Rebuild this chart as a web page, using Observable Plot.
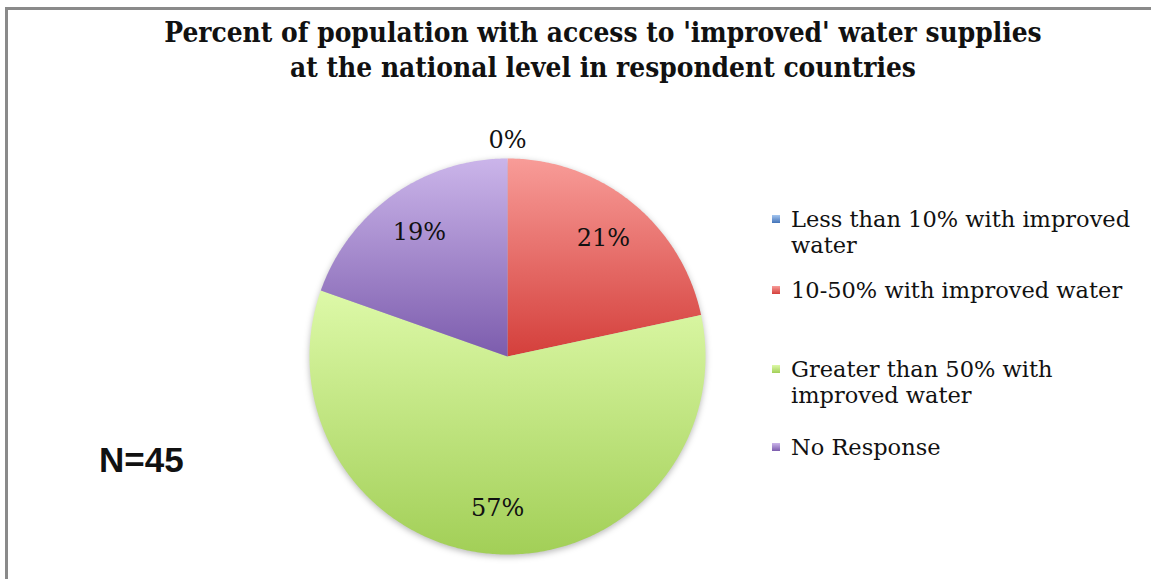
<!DOCTYPE html>
<html>
<head>
<meta charset="utf-8">
<script src="https://cdn.jsdelivr.net/npm/d3@7"></script>
<script src="https://cdn.jsdelivr.net/npm/@observablehq/plot@0.6"></script>
<style>
  html, body { margin: 0; padding: 0; background: #fff; }
  #wrap { position: relative; width: 1151px; height: 579px; overflow: hidden; background: #fff; }
  #frame { position: absolute; left: 5px; top: 7px; width: 1200px; height: 700px; border-top: 3px solid #8a8a8a; border-left: 3px solid #8a8a8a; box-sizing: border-box; }
  #title { position: absolute; left: 0; width: 1206px; top: 15px; text-align: center; font-family: "DejaVu Serif Condensed", "DejaVu Serif", serif; font-stretch: condensed; font-weight: bold; font-size: 27.8px; line-height: 35px; color: #111; }
  #legend { position: absolute; left: 772px; top: 0; width: 380px; font-family: "DejaVu Serif", serif; font-size: 22.5px; line-height: 26px; color: #111; }
  .item { position: absolute; left: 0; width: 379px; }
  .sw { position: absolute; left: 0; top: 9px; width: 8px; height: 8px; }
  .txt { position: absolute; left: 19px; width: 360px; white-space: nowrap; }
  #nlabel { position: absolute; left: 99px; top: 440px; font-family: "Liberation Sans", sans-serif; font-weight: bold; font-size: 35px; color: #111; }
  #chart { position: absolute; left: 0; top: 0; }
</style>
</head>
<body>
<div id="wrap">
  <div id="chart"></div>
  <div id="frame"></div>
  <div id="title"></div>
  <div id="legend"></div>
  <div id="nlabel"></div>
</div>
<script>
const titleLines = ["Percent of population with access to 'improved' water supplies", "at the national level in respondent countries"];
const categories = ["Less than 10% with improved water", "10-50% with improved water", "Greater than 50% with improved water", "No Response"];
const legendLines = [["Less than 10% with improved", "water"], ["10-50% with improved water"], ["Greater than 50% with", "improved water"], ["No Response"]];
const values = [0, 21, 57, 19];
const valueLabels = ["0%", "21%", "57%", "19%"];
const gradTop = ["#a4c6f0", "#f89c98", "#ddf9a8", "#cbb5ea"];
const gradBottom = ["#4373b8", "#d43f3b", "#a2cf57", "#7c5cad"];
const sampleNote = "N=45";

// layout
const W = 1151, H = 579, cx = 507, cy = 356, R = 198;

// pie geometry from the data
const arcs = d3.pie().sort(null).value(d => d)(values);
const slicePts = [];
arcs.forEach((a, i) => {
  slicePts.push({cat: categories[i], x: 0, y: 0});
  const n = Math.max(2, Math.ceil((a.endAngle - a.startAngle) / 0.01));
  for (let k = 0; k <= n; k++) {
    const t = a.startAngle + (a.endAngle - a.startAngle) * k / n;
    slicePts.push({cat: categories[i], x: Math.sin(t), y: Math.cos(t)});
  }
});
const labelPts = arcs.map((a, i) => {
  const mid = (a.startAngle + a.endAngle) / 2;
  const rr = values[i] === 0 ? 1.09 : 0.77;
  return {label: valueLabels[i], x: rr * Math.sin(mid), y: rr * Math.cos(mid)};
});

const gradIds = categories.map((c, i) => "slicegrad" + i);

const plot = Plot.plot({
  width: W, height: H,
  margin: 0,
  x: {domain: [-1, 1], range: [cx - R, cx + R], axis: null},
  y: {domain: [-1, 1], range: [cy + R, cy - R], axis: null},
  color: {type: "ordinal", domain: categories, range: gradIds.map(id => `url(#${id})`)},
  style: {background: "transparent"},
  marks: [
    Plot.line(slicePts, {x: "x", y: "y", z: "cat", fill: "cat", stroke: "none", curve: "linear-closed"}),
    Plot.text(labelPts, {x: "x", y: "y", text: "label", fontSize: 24, fontFamily: "DejaVu Serif, serif", fill: "#111"})
  ]
});

// gradients
const defs = d3.select(plot).insert("defs", ":first-child");
gradIds.forEach((id, i) => {
  const g = defs.append("linearGradient").attr("id", id).attr("x1", 0).attr("y1", 0).attr("x2", 0).attr("y2", 1);
  g.append("stop").attr("offset", "0%").attr("stop-color", gradTop[i]);
  g.append("stop").attr("offset", "100%").attr("stop-color", gradBottom[i]);
});
d3.select(plot).selectAll('g[aria-label="line"]').style("filter", "drop-shadow(0px 2px 3px rgba(0,0,0,0.28))");
document.getElementById("chart").appendChild(plot);

// title
document.getElementById("title").innerHTML = titleLines.map(t => `<div>${t}</div>`).join("");

// legend
const legendTops = [206, 277, 356, 434];
const leg = document.getElementById("legend");
categories.forEach((c, i) => {
  const item = document.createElement("div");
  item.className = "item";
  item.style.top = legendTops[i] + "px";
  const sw = document.createElement("div");
  sw.className = "sw";
  sw.style.background = `linear-gradient(${gradTop[i]}, ${gradBottom[i]})`;
  const tx = document.createElement("div");
  tx.className = "txt";
  tx.innerHTML = legendLines[i].join("<br>");
  item.appendChild(sw); item.appendChild(tx);
  leg.appendChild(item);
});
document.getElementById("nlabel").textContent = sampleNote;
</script>
</body>
</html>
